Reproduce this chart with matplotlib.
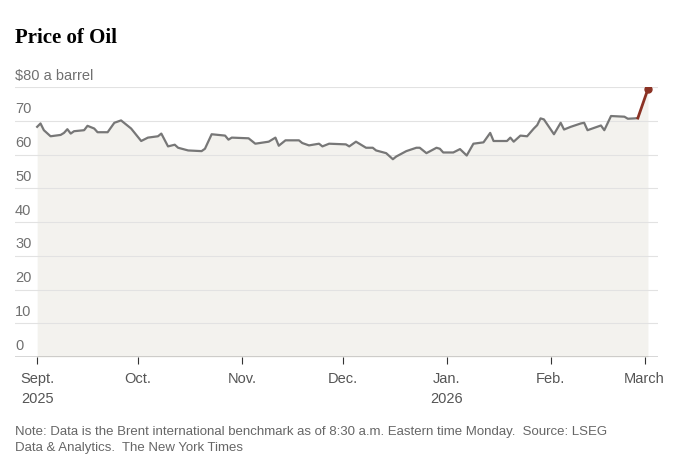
import matplotlib.pyplot as plt
import numpy as np

# days since Sept 1, 2025 and Brent price
days = [0, 1, 2, 4, 7, 8, 9, 10, 11, 14, 15, 17, 18, 21, 23, 25, 28, 31, 33, 36, 37, 39, 41, 42, 45,
        49, 50, 52, 56, 57, 58, 63, 65, 69, 71, 72, 74, 78, 79, 81, 84, 85, 87, 92, 93, 95, 98, 100,
        101, 104, 106, 107, 110, 113, 114, 116, 119, 120, 121, 124, 126, 128, 130, 133, 135, 136, 140,
        141, 142, 144, 146, 148, 149, 150, 151, 154, 156, 157, 159, 162, 163, 164, 166, 168, 169, 171,
        175, 176, 178, 179, 182]
price = [68.2, 69.2, 67.2, 65.4, 65.8, 66.4, 67.5, 66.2, 66.9, 67.2, 68.5, 67.7, 66.6, 66.6, 69.4,
         70.1, 67.7, 64.0, 65.0, 65.4, 66.2, 62.4, 62.9, 62.0, 61.2, 61.0, 61.7, 66.0, 65.6, 64.4,
         65.0, 64.8, 63.2, 63.8, 65.0, 62.6, 64.2, 64.2, 63.4, 62.7, 63.2, 62.4, 63.2, 63.0, 62.4,
         63.8, 62.0, 62.0, 61.2, 60.4, 58.6, 59.4, 61.0, 62.0, 62.0, 60.4, 62.0, 61.7, 60.6, 60.6,
         61.6, 59.7, 63.2, 63.6, 66.4, 64.0, 64.0, 65.0, 63.8, 65.6, 65.4, 67.7, 68.7, 70.7, 70.4,
         66.0, 69.4, 67.4, 68.2, 69.2, 69.4, 67.2, 67.9, 68.6, 67.2, 71.4, 71.2, 70.6, 70.7, 70.8, 79.4]
month_days = [0, 30, 61, 91, 122, 153, 181]
month_labels = ['Sept.\n2025', 'Oct.', 'Nov.', 'Dec.', 'Jan.\n2026', 'Feb.', 'March']
y_ticks = [0, 10, 20, 30, 40, 50, 60, 70, 80]

fig = plt.figure(figsize=(6.8, 4.57), dpi=100)
ax = fig.add_axes([15 / 680, 100 / 457, 643 / 680, 270 / 457])
ax.set_xlim(-6.6, 185)
ax.set_ylim(0, 80)

for v in y_ticks[1:]:
    ax.axhline(v, color='#e2e2e2', lw=0.8, zorder=1)
    label = '$80 a barrel' if v == 80 else str(v)
    ax.text(-6.6, v + 1.3, label, color='#707070', fontsize=10.5, va='bottom', ha='left',
            family='Liberation Sans')
ax.text(-6.6, 1.3, '0', color='#707070', fontsize=10.5, va='bottom', ha='left', family='Liberation Sans')

ax.fill_between(days, price, 0, color='#f3f2ee', lw=0, zorder=0)
ax.plot(days[:-1], price[:-1], color='#777777', lw=1.6, zorder=3)
ax.plot(days[-2:], price[-2:], color='#8b3224', lw=2, zorder=4)
ax.plot(days[-1], price[-1], 'o', color='#8b3224', ms=5, zorder=5)
ax.axhline(0, color='#333333', lw=1, zorder=4)

for s in ax.spines.values():
    s.set_visible(False)
ax.set_yticks([])
ax.set_xticks(month_days)
ax.set_xticklabels(month_labels, fontsize=10.5, color='#555555', linespacing=1.5, family='Liberation Sans')
ax.tick_params(axis='x', length=5, color='#333333', pad=6)

fig.text(15 / 680, 1 - 38 / 457, 'Price of Oil', fontsize=15, fontweight='bold',
         family='Liberation Serif', va='center')
fig.text(15 / 680, 1 - 432 / 457,
         'Note: Data is the Brent international benchmark as of 8:30 a.m. Eastern time Monday.  Source: LSEG',
         fontsize=9.5, color='#666666', va='center', family='Liberation Sans')
fig.text(15 / 680, 1 - 448 / 457, 'Data & Analytics.  The New York Times',
         fontsize=9.5, color='#666666', va='center', family='Liberation Sans')

fig.savefig('out.png', dpi=100)
